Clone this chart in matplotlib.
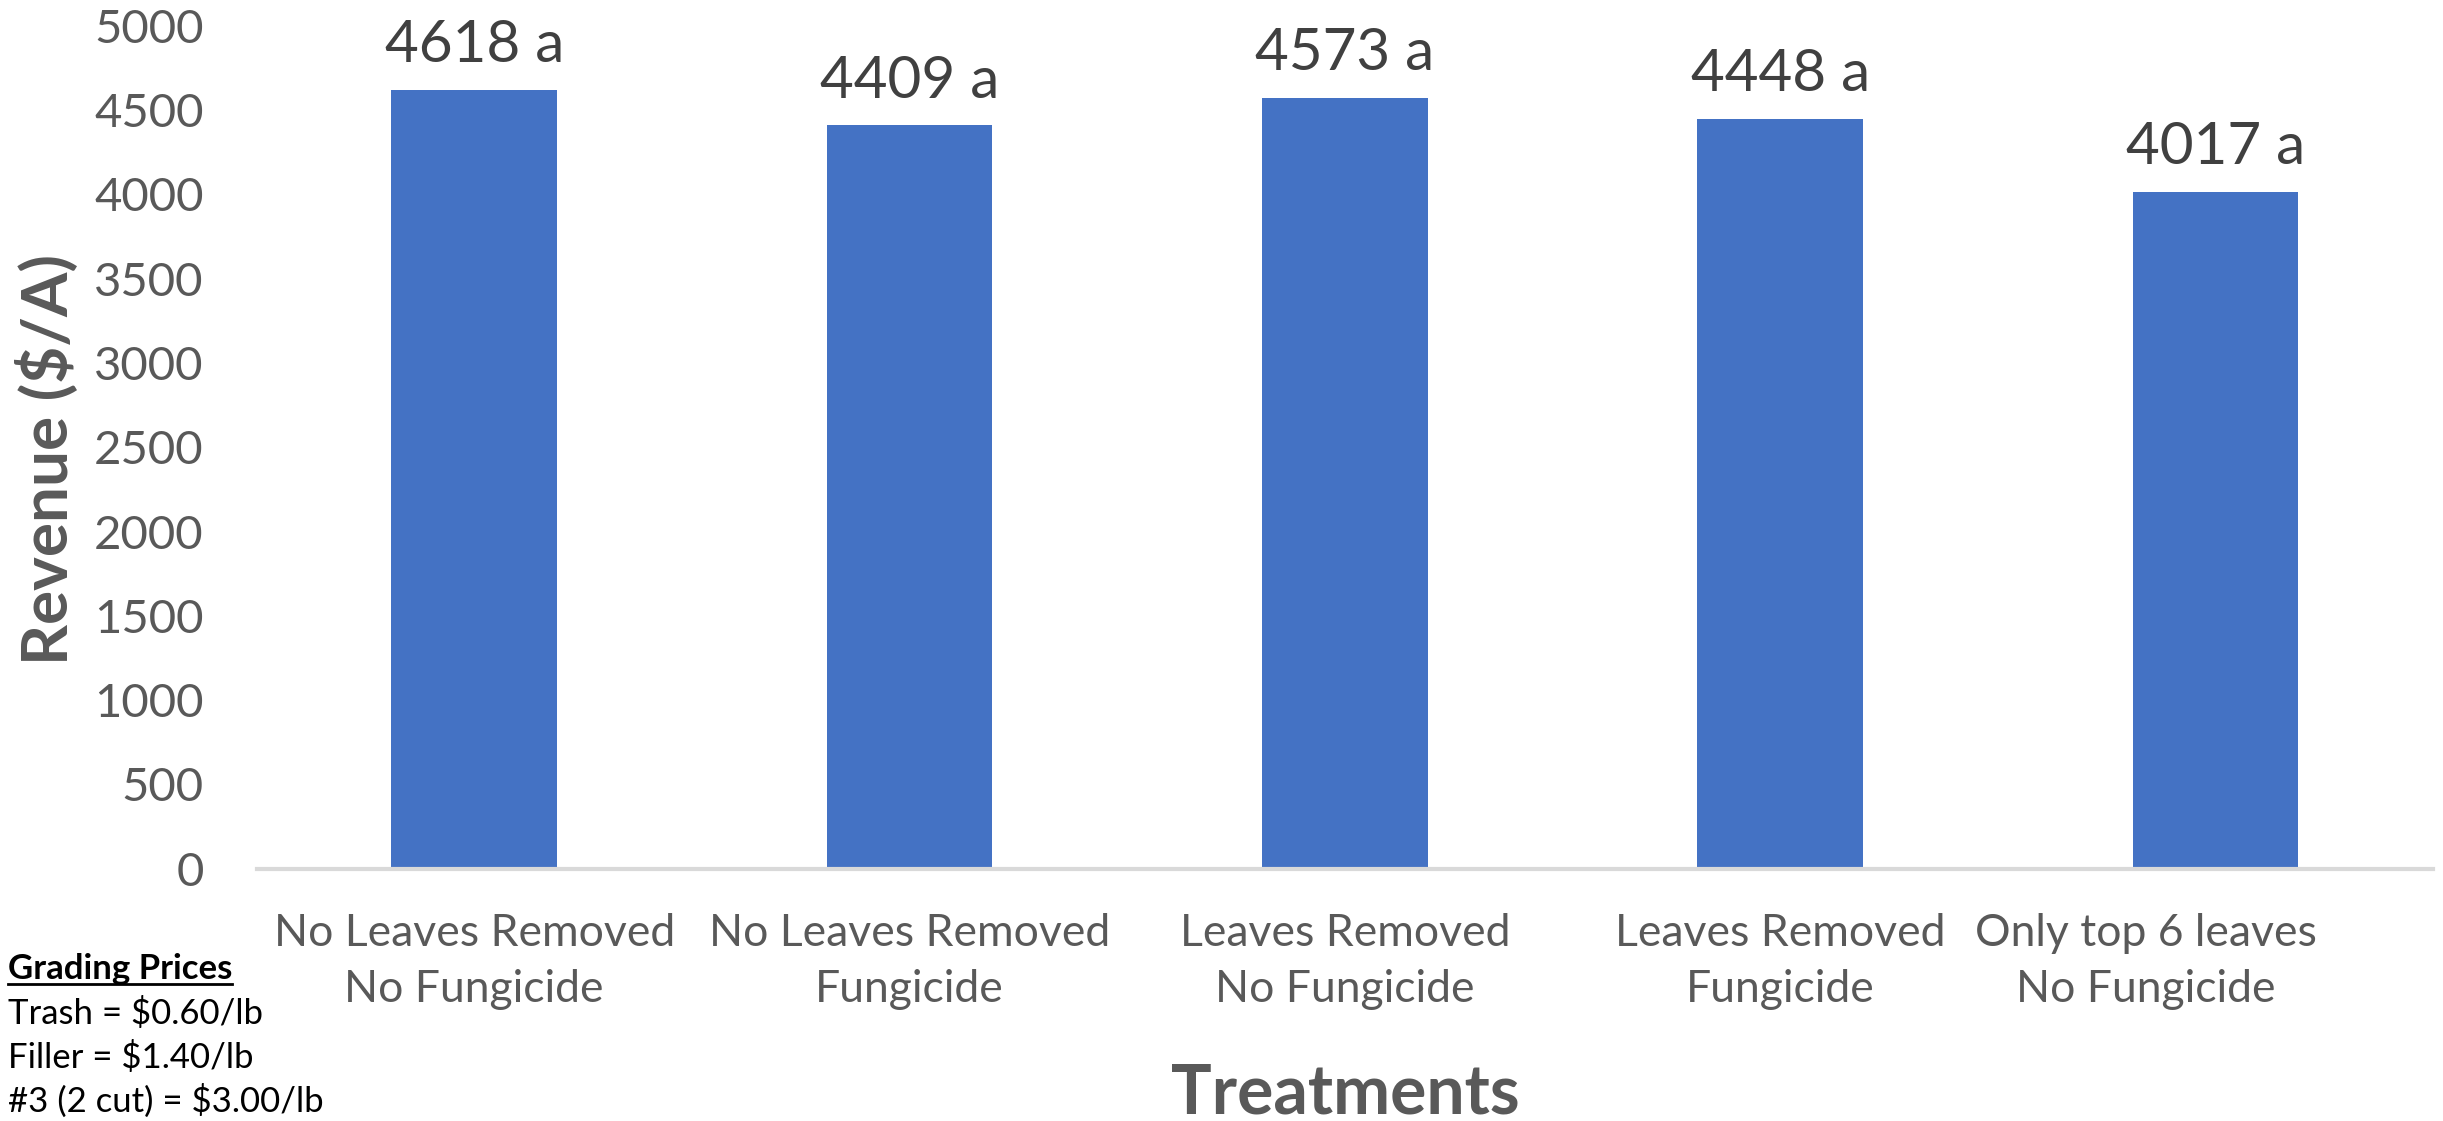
import matplotlib.pyplot as plt
import matplotlib.transforms as mtransforms
from matplotlib.lines import Line2D

plt.rcParams['font.family'] = ['Lato', 'DejaVu Sans']

# data
treatments = ['No Leaves Removed\nNo Fungicide', 'No Leaves Removed\nFungicide',
              'Leaves Removed\nNo Fungicide', 'Leaves Removed\nFungicide',
              'Only top 6 leaves\nNo Fungicide']
revenue = [4618, 4409, 4573, 4448, 4017]
letters = ['a', 'a', 'a', 'a', 'a']
price_lines = ['Trash = $0.60/lb', 'Filler = $1.40/lb', '#3 (2 cut) = $3.00/lb']

fig = plt.figure(figsize=(24.43, 11.21), dpi=100)
ax = fig.add_axes([0.105, 0.225, 0.891, 0.752])

x = range(len(treatments))
bars = ax.bar(x, revenue, width=0.38, color='#4472C4', zorder=2)

# bar labels
for b, v, l in zip(bars, revenue, letters):
    ax.annotate(f'{v} {l}', (b.get_x() + b.get_width() / 2, v),
                xytext=(0, 20), textcoords='offset points',
                ha='center', va='baseline', fontsize=42, color='#404040')

ax.set_xlim(-0.5, 4.5)
ax.set_ylim(0, 5000)
ax.set_yticks(range(0, 5001, 500))
ax.set_xticks(list(x))
ax.set_xticklabels(treatments, linespacing=1.45)
ax.tick_params(axis='y', length=0, pad=38, labelsize=34, labelcolor='#595959')
ax.tick_params(axis='x', length=0, pad=32, labelsize=32, labelcolor='#595959')

# last label sits a bit left, like in the original
last = ax.get_xticklabels()[-1]
last.set_transform(last.get_transform() +
                   mtransforms.ScaledTranslation(-0.70, 0, fig.dpi_scale_trans))

for s in ['top', 'right', 'left']:
    ax.spines[s].set_visible(False)
ax.spines['bottom'].set_color('#D9D9D9')
ax.spines['bottom'].set_linewidth(3)

fig.text(47 / 2443, 0.59, 'Revenue ($/A)', fontsize=46, fontweight='bold',
         color='#595959', rotation=90, ha='center', va='center')
fig.text(0.5505, 0.024, 'Treatments', fontsize=49, fontweight='bold',
         color='#595959', ha='center', va='center')

# grading prices note
hdr = fig.text(0.0033, 1 - 969 / 1121, 'Grading Prices', fontsize=25,
               fontweight='bold', color='black', va='center', ha='left')
for i, t in enumerate(price_lines):
    fig.text(0.0033, 1 - (1013 + 44 * i) / 1121, t, fontsize=25,
             color='black', va='center', ha='left')

# underline for header
fig.canvas.draw()
bb = hdr.get_window_extent().transformed(fig.transFigure.inverted())
fig.add_artist(Line2D([bb.x0, bb.x1], [bb.y0 + 0.001, bb.y0 + 0.001],
                      transform=fig.transFigure, color='black', lw=2))

fig.savefig('out.png', dpi=100)
